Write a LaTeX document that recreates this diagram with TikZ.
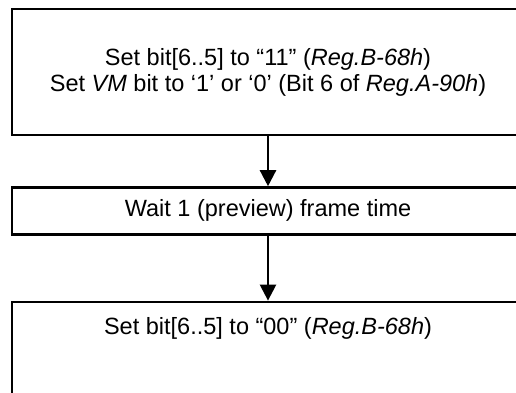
\documentclass[tikz,border=0pt]{standalone}
\usepackage{fontspec}
\setmainfont{Liberation Sans}
\usetikzlibrary{arrows.meta,positioning}

\begin{document}
\begin{tikzpicture}[x=1pt, y=-1pt, font=\fontsize{23.5}{26}\selectfont,
  box/.style={draw, line width=2.4pt, align=center, minimum width=512pt, inner sep=0pt},
  arr/.style={-{Triangle[length=16pt, width=16pt]}, line width=2.4pt}]
\useasboundingbox (0,0) rectangle (516,392);
\clip (0,0) rectangle (516,392);
\node[box, minimum height=126pt] (setvm) at (268,72) {Set bit[6..5] to “11” (\textit{Reg.B-68h})\\Set \textit{VM} bit to ‘1’ or ‘0’ (Bit 6 of \textit{Reg.A-90h})};
\node[box, minimum height=47pt, below=50pt of setvm] (wait) {Wait 1 (preview) frame time};
\node[box, anchor=north, text height=33pt, text depth=83pt, below=65pt of wait] (clear) {Set bit[6..5] to “00” (\textit{Reg.B-68h})};
\draw[arr] (setvm) -- (wait);
\draw[arr] (wait) -- (clear);
\end{tikzpicture}
\end{document}
